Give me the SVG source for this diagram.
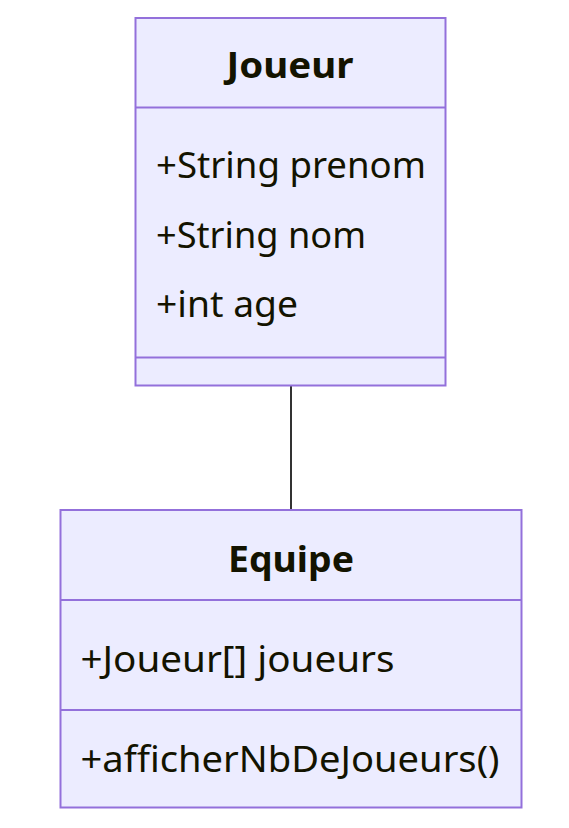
<svg xmlns="http://www.w3.org/2000/svg" width="569" height="828" viewBox="0 0 569 828">
<style>
.box{fill:#ECECFF;stroke:#9370DB;stroke-width:2}
.div{stroke:#9370DB;stroke-width:2}
.t{font-family:"Noto Sans","Open Sans",sans-serif;font-size:36px;fill:#131300}
.b{font-weight:bold;text-anchor:middle}
.edge{stroke:#333;stroke-width:2;fill:none}
</style>
<rect width="569" height="828" fill="#fff"/>
<g id="connectors">
<path class="edge" d="M291,386 L291,510"/>
</g>
<g id="Joueur">
<rect class="box" x="135.5" y="18" width="310" height="367.5"/>
<line class="div" x1="135.5" y1="107.5" x2="445.5" y2="107.5"/>
<line class="div" x1="135.5" y1="357.5" x2="445.5" y2="357.5"/>
<text class="t b" x="290" y="78" textLength="127" lengthAdjust="spacingAndGlyphs">Joueur</text>
<text class="t" x="156" y="178" textLength="270" lengthAdjust="spacingAndGlyphs">+String prenom</text>
<text class="t" x="156" y="248" textLength="210" lengthAdjust="spacingAndGlyphs">+String nom</text>
<text class="t" x="156" y="317" textLength="142" lengthAdjust="spacingAndGlyphs">+int age</text>
</g>
<g id="Equipe">
<rect class="box" x="60.5" y="510" width="461" height="297.5"/>
<line class="div" x1="60.5" y1="600" x2="521.5" y2="600"/>
<line class="div" x1="60.5" y1="710" x2="521.5" y2="710"/>
<text class="t b" x="291" y="571.5" textLength="126" lengthAdjust="spacingAndGlyphs">Equipe</text>
<text class="t" x="80.5" y="671.5" textLength="314" lengthAdjust="spacingAndGlyphs">+Joueur[] joueurs</text>
<text class="t" x="80.5" y="771.5" textLength="419" lengthAdjust="spacingAndGlyphs">+afficherNbDeJoueurs()</text>
</g>
</svg>
